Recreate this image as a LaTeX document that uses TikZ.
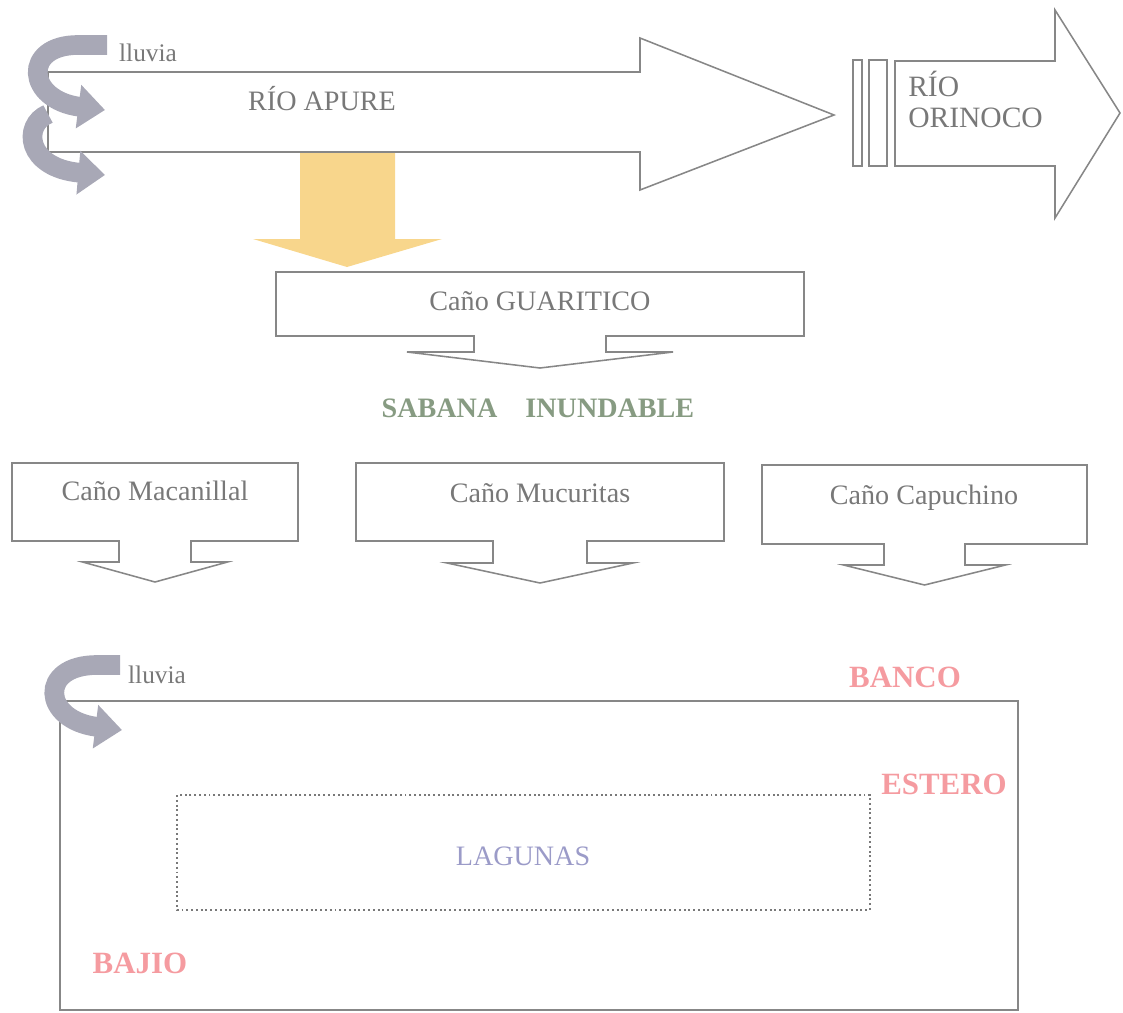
\documentclass[tikz,border=0pt]{standalone}
\usepackage{fontspec}
\setmainfont{Liberation Serif}
\usepackage{tikz}
\usetikzlibrary{arrows.meta}

\definecolor{linegrey}{RGB}{135,135,135}
\definecolor{txtgrey}{RGB}{120,120,120}
\definecolor{curlgrey}{RGB}{168,168,182}
\definecolor{sunyellow}{RGB}{248,214,140}
\definecolor{tagpink}{RGB}{245,155,160}
\definecolor{sabgreen}{RGB}{135,155,130}
\definecolor{lagblue}{RGB}{155,155,200}

% box with an arrow under it: centre x, box half width, top, bottom,
% stem half width, stem bottom, head half width, tip
\newcommand{\canoarrow}[8]{%
  \draw[outline] (#1-#2,#3) -- (#1+#2,#3) -- (#1+#2,#4) -- (#1+#5,#4) -- (#1+#5,#6)
    -- (#1+#7,#6) -- (#1,#8) -- (#1-#7,#6) -- (#1-#5,#6) -- (#1-#5,#4) -- (#1-#2,#4) -- cycle;}

\begin{document}
\begin{tikzpicture}[
  x=0.025cm, y=-0.025cm,
  outline/.style={draw=linegrey, line width=1.1pt, line join=miter},
  lbl/.style={anchor=base, inner sep=0pt, text=txtgrey, font=\fontsize{20}{24}\selectfont},
  tag/.style={anchor=base, inner sep=0pt, text=tagpink, font=\fontsize{22}{26}\selectfont\bfseries},
  curl/.style={draw=curlgrey, line width=14pt, -{Triangle[width=30pt,length=19pt]}}
]
\useasboundingbox (0,0) rectangle (1123,1012);

% rio apure and the yellow outflow
\fill[sunyellow] (300,152) -- (395,152) -- (395,239) -- (442,239) -- (347,267)
  -- (253,239) -- (300,239) -- cycle;
\draw[outline] (48,72) -- (640,72) -- (640,38) -- (834,115) -- (640,190)
  -- (640,152) -- (48,152) -- cycle;
\node[lbl] (apure) at (322,110) {RÍO APURE};

% rio orinoco
\draw[outline] (853,60) rectangle (862,166);
\draw[outline] (869,60) rectangle (887,166);
\draw[outline] (895,61) -- (1055,61) -- (1055,10) -- (1120,113) -- (1055,218)
  -- (1055,166) -- (895,166) -- cycle;
\node[lbl, anchor=base west, font=\fontsize{21}{25}\selectfont] (rio) at (908,97) {RÍO};
\node[lbl, anchor=base west, font=\fontsize{21}{25}\selectfont] (orinoco) at (908,128) {ORINOCO};

% rain
\draw[curl] (48,114) .. controls (22,125) and (26,168) .. (105,175);
\draw[curl] (107,45) -- (78,45) .. controls (22,45) and (26,100) .. (105,110);
\node[lbl, font=\fontsize{18}{22}\selectfont] (lluviaA) at (148,62) {lluvia};

% canos
\canoarrow{540}{264}{272}{336}{66}{352}{133}{368}
\node[lbl] (guaritico) at (540,310) {Caño GUARITICO};

\node[lbl, text=sabgreen, font=\fontsize{20}{24}\selectfont\bfseries] (sabana)
  at (538,417) {SABANA\hspace{1em}INUNDABLE};

\canoarrow{155}{143}{463}{541}{36}{562}{72.5}{582}
\canoarrow{540}{184}{463}{541}{47}{563}{93}{583}
\canoarrow{924.5}{162.5}{465}{544}{40.5}{565}{81}{585}
\node[lbl] (macanillal) at (155,500) {Caño Macanillal};
\node[lbl] (mucuritas) at (540,502) {Caño Mucuritas};
\node[lbl] (capuchino) at (924,504) {Caño Capuchino};

% banco, estero, bajio
\draw[outline] (60,701) rectangle (1018,1010);
\draw[draw=linegrey!90!black, line width=1.4pt, dotted] (177,795) rectangle (870,910);
\draw[curl] (120,665) -- (97,665) .. controls (38,665) and (42,720) .. (122,730);
\node[lbl, font=\fontsize{18}{22}\selectfont] (lluviaB) at (157,683) {lluvia};
\node[tag] (banco) at (905,687) {BANCO};
\node[tag] (estero) at (944,794) {ESTERO};
\node[tag] (bajio) at (140,973) {BAJIO};
\node[lbl, text=lagblue] (lagunas) at (523,865) {LAGUNAS};
\end{tikzpicture}
\end{document}
